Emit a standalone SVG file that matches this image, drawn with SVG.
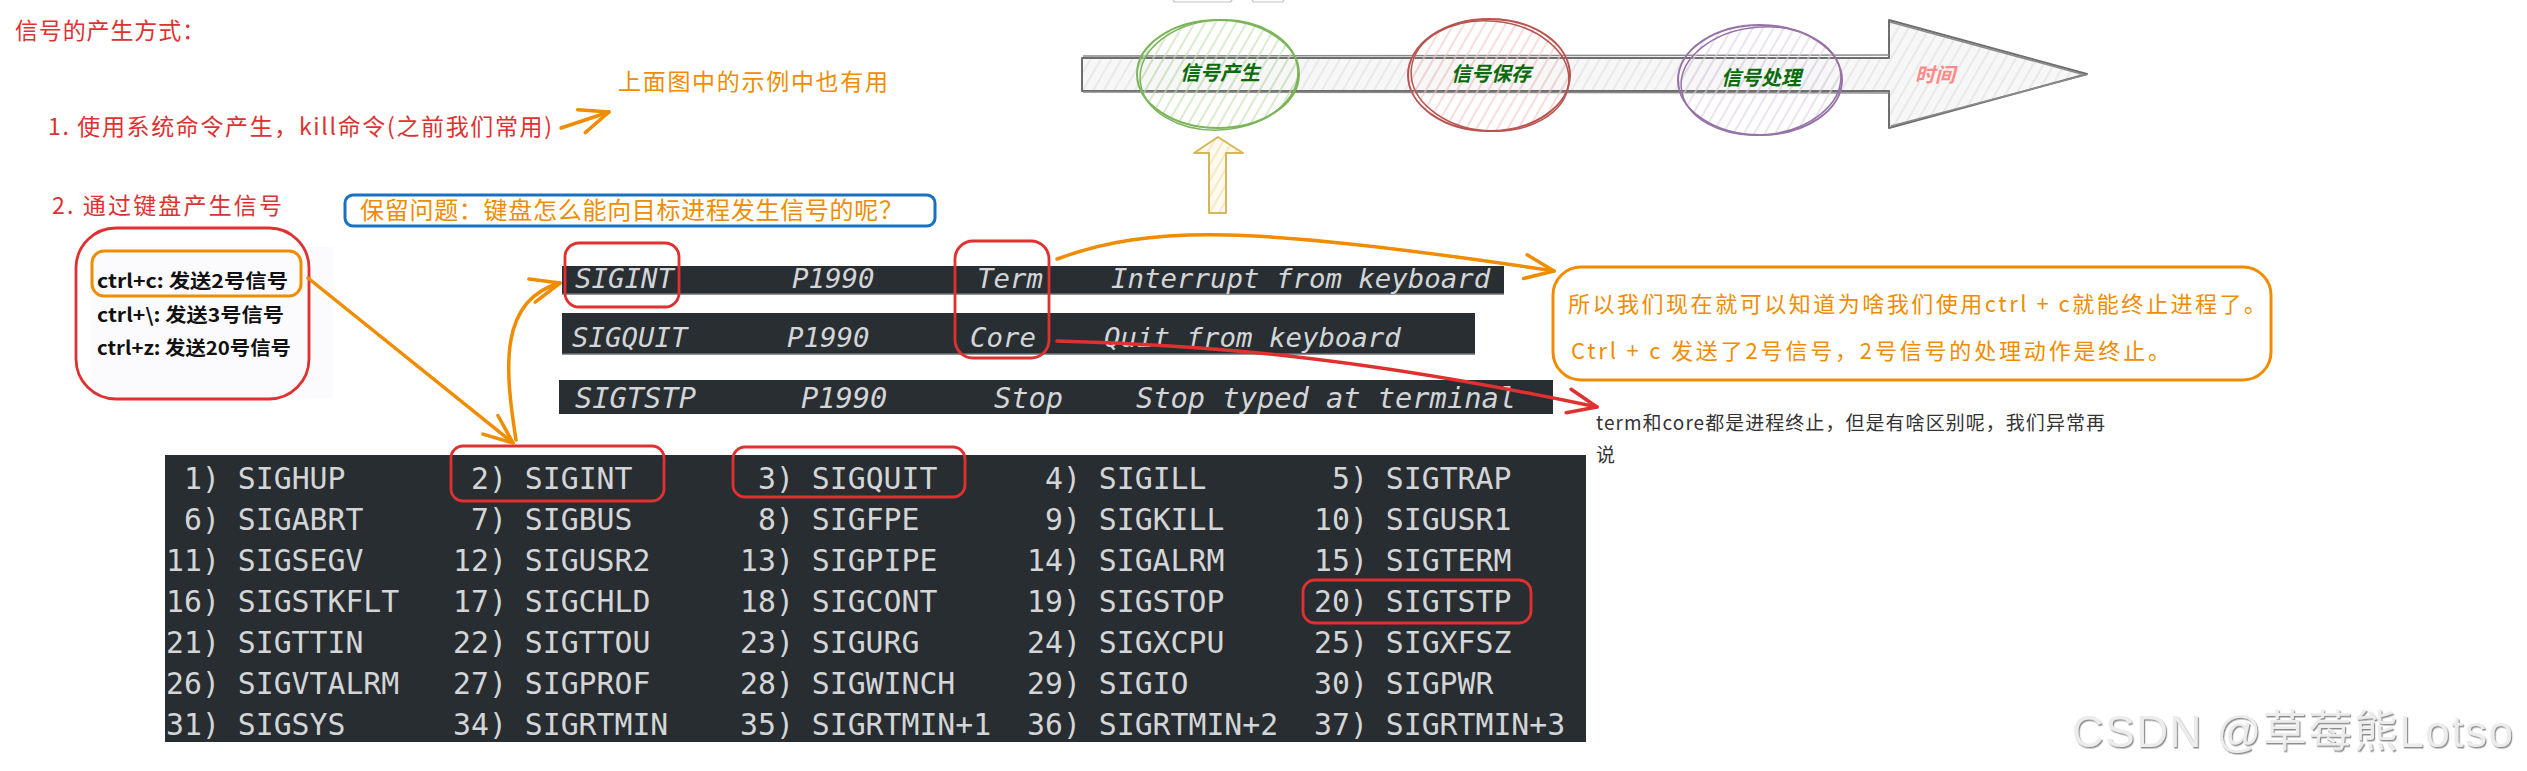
<svg xmlns="http://www.w3.org/2000/svg" width="2527" height="771" viewBox="0 0 2527 771">
<defs>
<style>
.hand{font-family:"Noto Sans CJK SC","Noto Sans",sans-serif;}
.red{fill:#e03131;}
.org{fill:#f08c00;}
.rbox{fill:none;stroke:#e03131;stroke-width:2.8;}
.obox{fill:none;stroke:#f08c00;stroke-width:3;}
.bar{fill:#292e32;}
.barline{stroke:#6b7074;stroke-width:1.5;}
.bt{font-family:"DejaVu Sans Mono","Liberation Mono",monospace;font-style:italic;fill:#d3d5d7;}
.tt{font-family:"DejaVu Sans Mono","Liberation Mono",monospace;font-size:29.8px;fill:#d3d5d7;}
.conn-o{fill:none;stroke:#f08c00;stroke-width:3.5;stroke-linecap:round;}
.conn-r{fill:none;stroke:#e03131;stroke-width:3.5;stroke-linecap:round;}
.tl{font-family:"Noto Sans CJK SC",sans-serif;font-weight:bold;font-style:italic;font-size:20px;text-anchor:middle;}
</style>
<marker id="ah-o" markerUnits="userSpaceOnUse" markerWidth="40" markerHeight="30" refX="36" refY="15" orient="auto" viewBox="0 0 40 30">
<path d="M7,3 L36,15 L7,27" fill="none" stroke="#f08c00" stroke-width="3.5" stroke-linecap="round" stroke-linejoin="round"/>
</marker>
<marker id="ah-r" markerUnits="userSpaceOnUse" markerWidth="40" markerHeight="30" refX="36" refY="15" orient="auto" viewBox="0 0 40 30">
<path d="M7,3 L36,15 L7,27" fill="none" stroke="#e03131" stroke-width="3.5" stroke-linecap="round" stroke-linejoin="round"/>
</marker>
<pattern id="h-grey" patternUnits="userSpaceOnUse" width="9" height="9" patternTransform="rotate(30)">
<rect width="9" height="9" fill="#f7f7f7"/><line x1="2" y1="0" x2="2" y2="9" stroke="#dcdcdc" stroke-width="1"/>
</pattern>
<pattern id="h-green" patternUnits="userSpaceOnUse" width="9" height="9" patternTransform="rotate(30)">
<line x1="2" y1="0" x2="2" y2="9" stroke="#bfe0b0" stroke-width="1.2"/>
</pattern>
<pattern id="h-red" patternUnits="userSpaceOnUse" width="9" height="9" patternTransform="rotate(30)">
<line x1="2" y1="0" x2="2" y2="9" stroke="#f5c6c4" stroke-width="1.2"/>
</pattern>
<pattern id="h-purple" patternUnits="userSpaceOnUse" width="9" height="9" patternTransform="rotate(30)">
<line x1="2" y1="0" x2="2" y2="9" stroke="#ddd0e6" stroke-width="1.2"/>
</pattern>
<pattern id="h-yellow" patternUnits="userSpaceOnUse" width="8" height="8" patternTransform="rotate(30)">
<rect width="8" height="8" fill="#fffaf0"/><line x1="2" y1="0" x2="2" y2="8" stroke="#f3dfa8" stroke-width="1.2"/>
</pattern>
<filter id="wm" x="-5%" y="-20%" width="110%" height="140%">
<feDropShadow dx="1.2" dy="1.5" stdDeviation="0.7" flood-color="#8f8f8f"/>
</filter>
</defs>

<rect x="0" y="0" width="2527" height="771" fill="#ffffff"/>

<!-- headings -->
<g id="title"><text class="hand red" x="15" y="39" font-size="23" textLength="190" lengthAdjust="spacing">信号的产生方式：</text></g>
<g id="note-top"><text class="hand org" x="618" y="90" font-size="23" textLength="270" lengthAdjust="spacing">上面图中的示例中也有用</text></g>
<g id="item1"><text class="hand red" x="48" y="135" font-size="23" textLength="504" lengthAdjust="spacing">1. 使用系统命令产生，kill命令(之前我们常用)</text></g>
<g id="item2"><text class="hand red" x="52" y="214" font-size="23" textLength="230" lengthAdjust="spacing">2. 通过键盘产生信号</text></g>

<g id="question">
<rect x="345" y="195" width="590" height="31" rx="8" fill="none" stroke="#1971c2" stroke-width="3"/>
<text class="hand org" x="360" y="219" font-size="24" textLength="543" lengthAdjust="spacing">保留问题：键盘怎么能向目标进程发生信号的呢？</text>
</g>

<g id="ctrl-keys">
<rect x="91" y="247" width="242" height="151" fill="#fbfafd"/>
<rect class="rbox" x="76" y="228" width="233" height="171" rx="40"/>
<rect class="obox" x="92" y="251" width="209" height="45" rx="12"/>
<g font-family="'Noto Sans CJK SC',sans-serif" font-weight="bold" font-size="19" fill="#111">
<text x="97" y="288" textLength="191" lengthAdjust="spacingAndGlyphs">ctrl+c:  发送2号信号</text>
<text x="97" y="322" textLength="187" lengthAdjust="spacingAndGlyphs">ctrl+\:  发送3号信号</text>
<text x="97" y="355" textLength="194" lengthAdjust="spacingAndGlyphs">ctrl+z: 发送20号信号</text>
</g>
</g>

<!-- signal detail bars -->
<g id="bar-sigint">
<rect class="bar" x="562" y="266" width="942" height="28"/>
<line class="barline" x1="562" y1="294" x2="1504" y2="294"/>
<g class="bt" font-size="27.4">
<text x="575" y="288">SIGINT</text><text x="792" y="288">P1990</text><text x="977" y="288">Term</text><text x="1111" y="288">Interrupt from keyboard</text>
</g>
</g>
<g id="bar-sigquit">
<rect class="bar" x="562" y="313" width="913" height="41"/>
<line class="barline" x1="562" y1="354" x2="1475" y2="354"/>
<g class="bt" font-size="27.4">
<text x="572" y="347">SIGQUIT</text><text x="787" y="347">P1990</text><text x="970" y="347">Core</text><text x="1104" y="347">Quit from keyboard</text>
</g>
</g>
<g id="bar-sigtstp">
<rect class="bar" x="559" y="380" width="994" height="34"/>
<g class="bt" font-size="28.7">
<text x="575" y="408">SIGTSTP</text><text x="801" y="408">P1990</text><text x="994" y="408">Stop</text><text x="1136" y="408">Stop typed at terminal</text>
</g>
</g>
<g id="marks-bars">
<rect class="rbox" x="565" y="243" width="114" height="64" rx="14"/>
<rect class="rbox" x="955" y="241" width="94" height="117" rx="18"/>
</g>

<!-- conclusion -->
<g id="conclusion">
<rect class="obox" x="1553" y="267" width="718" height="113" rx="28"/>
<text class="hand org" x="1568" y="312" font-size="22" textLength="698" lengthAdjust="spacing">所以我们现在就可以知道为啥我们使用ctrl + c就能终止进程了。</text>
<text class="hand org" x="1571" y="359" font-size="22" textLength="599" lengthAdjust="spacing">Ctrl + c 发送了2号信号，2号信号的处理动作是终止。</text>
</g>

<g id="term-core-note" font-family="'Noto Sans CJK SC',sans-serif" font-size="19" fill="#333">
<text x="1596" y="430" textLength="509" lengthAdjust="spacing">term和core都是进程终止，但是有啥区别呢，我们异常再</text>
<text x="1596" y="462">说</text>
</g>

<!-- signal table -->
<g id="signal-table">
<rect x="165" y="455" width="1421" height="287" fill="#282d31"/>
<g class="tt">
<text x="184" y="489">1) SIGHUP</text><text x="471" y="489">2) SIGINT</text><text x="758" y="489">3) SIGQUIT</text><text x="1045" y="489">4) SIGILL</text><text x="1332" y="489">5) SIGTRAP</text>
<text x="184" y="530">6) SIGABRT</text><text x="471" y="530">7) SIGBUS</text><text x="758" y="530">8) SIGFPE</text><text x="1045" y="530">9) SIGKILL</text><text x="1314" y="530">10) SIGUSR1</text>
<text x="166" y="571">11) SIGSEGV</text><text x="453" y="571">12) SIGUSR2</text><text x="740" y="571">13) SIGPIPE</text><text x="1027" y="571">14) SIGALRM</text><text x="1314" y="571">15) SIGTERM</text>
<text x="166" y="612">16) SIGSTKFLT</text><text x="453" y="612">17) SIGCHLD</text><text x="740" y="612">18) SIGCONT</text><text x="1027" y="612">19) SIGSTOP</text><text x="1314" y="612">20) SIGTSTP</text>
<text x="166" y="653">21) SIGTTIN</text><text x="453" y="653">22) SIGTTOU</text><text x="740" y="653">23) SIGURG</text><text x="1027" y="653">24) SIGXCPU</text><text x="1314" y="653">25) SIGXFSZ</text>
<text x="166" y="694">26) SIGVTALRM</text><text x="453" y="694">27) SIGPROF</text><text x="740" y="694">28) SIGWINCH</text><text x="1027" y="694">29) SIGIO</text><text x="1314" y="694">30) SIGPWR</text>
<text x="166" y="735">31) SIGSYS</text><text x="453" y="735">34) SIGRTMIN</text><text x="740" y="735">35) SIGRTMIN+1</text><text x="1027" y="735">36) SIGRTMIN+2</text><text x="1314" y="735">37) SIGRTMIN+3</text>
</g>
<rect class="rbox" x="451" y="446" width="213" height="55" rx="12"/>
<rect class="rbox" x="733" y="447" width="232" height="50" rx="12"/>
<rect class="rbox" x="1303" y="580" width="228" height="43" rx="12"/>
</g>

<!-- timeline -->
<g id="top-tabs" fill="none" stroke="#c4c4c4" stroke-width="1.2">
<rect x="1173" y="-10" width="59" height="12" rx="3"/>
<rect x="1252" y="-10" width="32" height="12" rx="3"/>
</g>
<g id="timeline-arrow">
<polygon points="1082,58 1889,58 1889,20 2087,74 1889,128 1889,91 1082,91" fill="url(#h-grey)" stroke="#6e6e6e" stroke-width="2" stroke-linejoin="round"/>
<path d="M1083,56 L1889,55 M1083,92 L1889,93 M1890,22 L2085,75 L1891,126" fill="none" stroke="#8a8a8a" stroke-width="1.5"/>
<text class="tl" x="1935" y="82" fill="#ff8a8a">时间</text>
</g>
<g id="stage-produce">
<ellipse cx="1218" cy="74" rx="81" ry="54" fill="url(#h-green)" stroke="#7cb45a" stroke-width="2"/>
<ellipse cx="1219" cy="75" rx="79" ry="55" transform="rotate(-4 1219 75)" fill="none" stroke="#7cb45a" stroke-width="1.5"/>
<text class="tl" x="1220" y="80" fill="#0a6b0a">信号产生</text>
</g>
<g id="stage-save">
<ellipse cx="1489" cy="75" rx="81" ry="56" fill="url(#h-red)" stroke="#b85450" stroke-width="2"/>
<ellipse cx="1490" cy="76" rx="79" ry="55" transform="rotate(5 1490 76)" fill="none" stroke="#b85450" stroke-width="1.5"/>
<text class="tl" x="1491" y="81" fill="#0a6b0a">信号保存</text>
</g>
<g id="stage-handle">
<ellipse cx="1760" cy="80" rx="82" ry="55" fill="url(#h-purple)" stroke="#9673a6" stroke-width="2"/>
<ellipse cx="1761" cy="81" rx="80" ry="54" transform="rotate(-5 1761 81)" fill="none" stroke="#9673a6" stroke-width="1.5"/>
<text class="tl" x="1761" y="85" fill="#0a6b0a">信号处理</text>
</g>
<g id="up-arrow">
<polygon points="1218,137 1243,153 1226,153 1226,213 1209,213 1209,153 1194,153" fill="url(#h-yellow)" stroke="#d6b656" stroke-width="2" stroke-linejoin="round"/>
</g>

<!-- connectors -->
<g id="connectors">
<path class="conn-o" d="M561,128 L609,112" marker-end="url(#ah-o)"/>
<path class="conn-o" d="M308,278 L513,443" marker-end="url(#ah-o)"/>
<path class="conn-o" d="M516,440 C505,370 498,300 560,283" marker-end="url(#ah-o)"/>
<path class="conn-o" d="M1057,259 C1150,225 1250,225 1554,271" marker-end="url(#ah-o)"/>
<path class="conn-r" d="M1057,341 C1200,345 1350,355 1597,407" marker-end="url(#ah-r)"/>
</g>

<g id="watermark">
<text x="2072" y="747" font-family="'Liberation Sans','Noto Sans CJK SC',sans-serif" font-size="44" fill="#ececec" filter="url(#wm)" textLength="441" lengthAdjust="spacing">CSDN @草莓熊Lotso</text>
</g>
</svg>
